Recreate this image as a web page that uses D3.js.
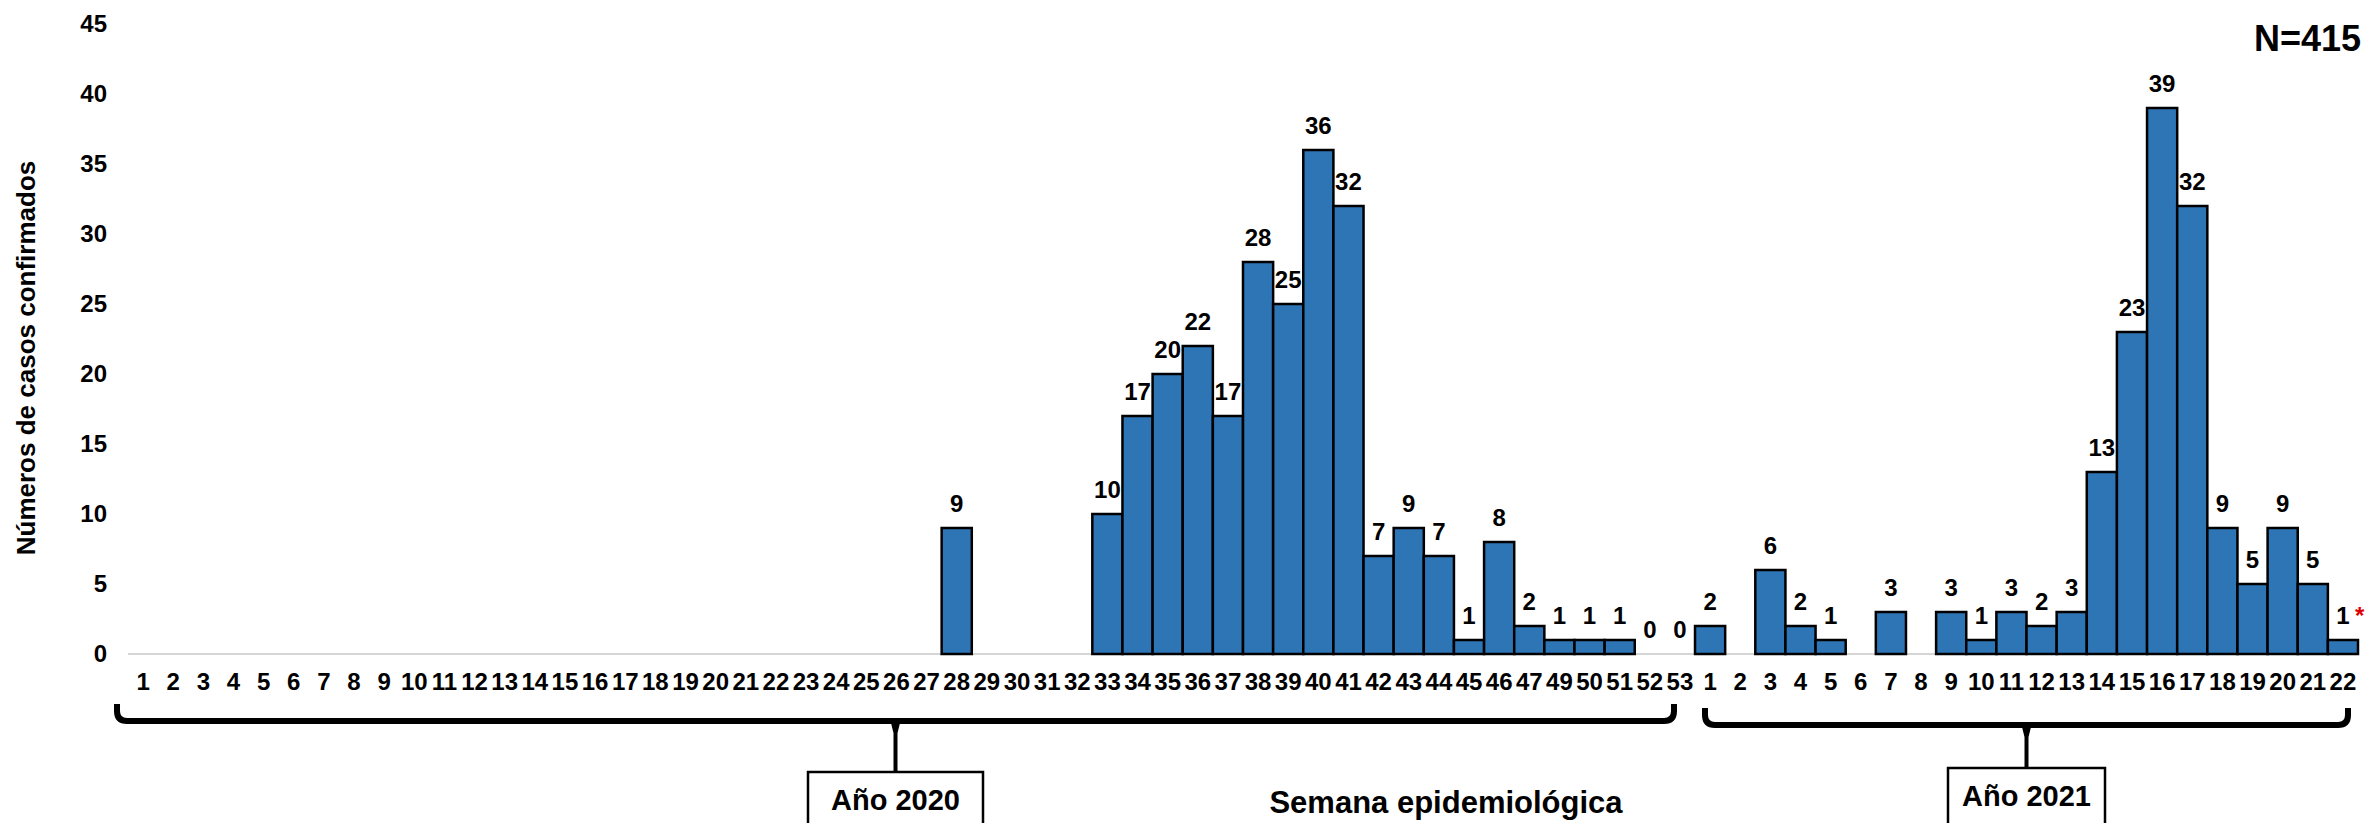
<!DOCTYPE html>
<html>

<head>
    <meta charset="UTF-8">
    <script src="https://d3js.org/d3.v7.min.js"></script>
    <style>
        body { margin: 0; background: #fff; }
        svg { display: block; font-family: "Liberation Sans", Arial, sans-serif; font-weight: bold; }
    </style>
</head>

<body>
    <svg></svg>

    <script>
        let width = 2368, height = 823;

        // epidemiological weeks (week 48 of 2020 is not shown in the source)
        let weeks2020 = ["1","2","3","4","5","6","7","8","9","10","11","12","13","14","15","16","17","18","19","20",
            "21","22","23","24","25","26","27","28","29","30","31","32","33","34","35","36","37","38","39","40",
            "41","42","43","44","45","46","47","49","50","51","52","53"];
        let weeks2021 = ["1","2","3","4","5","6","7","8","9","10","11","12","13","14","15","16","17","18","19","20","21","22"];

        // confirmed cases per week (null = no bar, no label)
        let cases2020 = [null,null,null,null,null,null,null,null,null,null,null,null,null,null,null,null,null,null,null,null,
            null,null,null,null,null,null,null,9,null,null,null,null,10,17,20,22,17,28,25,36,
            32,7,9,7,1,8,2,1,1,1,0,0];
        let cases2021 = [2,null,6,2,1,null,3,null,3,1,3,2,3,13,23,39,32,9,5,9,5,1];

        let yTicks = [0, 5, 10, 15, 20, 25, 30, 35, 40, 45];
        let total = "N=415";

        let data = []
        weeks2020.forEach((w, i) => data.push({ key: "2020-" + w, week: w, value: cases2020[i] }))
        weeks2021.forEach((w, i) => data.push({ key: "2021-" + w, week: w, value: cases2021[i] }))

        let svg = d3.select("svg")
            .attr("width", width)
            .attr("height", height)

        let x = d3.scaleBand()
            .domain(data.map(d => d.key))
            .range([128, 2358])
            .padding(0);

        let y = d3.scaleLinear()
            .domain([0, 45])
            .range([654, 24]);

        // y axis labels only
        svg.append("g")
            .attr("transform", "translate(128,0)")
            .call(d3.axisLeft(y).tickValues(yTicks).tickSize(0).tickPadding(21))
            .call(g => g.select(".domain").remove())
            .selectAll("text")
            .style("font-size", "24px")
            .style("font-family", "Liberation Sans, Arial, sans-serif")
            .style("font-weight", "bold")
            .attr("fill", "#000");

        // baseline
        svg.append("line")
            .attr("x1", x.range()[0]).attr("x2", x.range()[1])
            .attr("y1", y(0)).attr("y2", y(0))
            .attr("stroke", "#d6d6d6")
            .attr("stroke-width", 2);

        // bars
        let barData = data.filter(d => d.value != null && d.value > 0)
        svg.append("g")
            .selectAll("rect")
            .data(barData)
            .enter()
            .append("rect")
            .attr("x", d => x(d.key))
            .attr("y", d => y(d.value))
            .attr("width", x.bandwidth())
            .attr("height", d => y(0) - y(d.value))
            .attr("fill", "#2E75B6")
            .attr("stroke", "#000")
            .attr("stroke-width", 2.5);

        // value labels
        let labelData = data.filter(d => d.value != null)
        svg.append("g")
            .selectAll("text")
            .data(labelData)
            .enter()
            .append("text")
            .attr("x", d => x(d.key) + x.bandwidth() / 2)
            .attr("y", d => y(d.value) - 16)
            .attr("text-anchor", "middle")
            .style("font-size", "24px")
            .text(d => d.value);

        // red asterisk on the last (incomplete) week
        let last = data[data.length - 1]
        svg.append("text")
            .attr("x", x(last.key) + x.bandwidth() / 2 + 12)
            .attr("y", y(last.value) - 16)
            .attr("fill", "#e00000")
            .style("font-size", "24px")
            .text("*");

        // x axis week labels
        svg.append("g")
            .attr("transform", "translate(0," + y(0) + ")")
            .call(d3.axisBottom(x).tickSize(0).tickPadding(19).tickFormat(k => k.split("-")[1]))
            .call(g => g.select(".domain").remove())
            .selectAll("text")
            .style("font-size", "24px")
            .style("font-family", "Liberation Sans, Arial, sans-serif")
            .style("font-weight", "bold")
            .attr("fill", "#000");

        // year brackets
        function bracket(x0, x1, lineY, boxW, boxTop, label) {
            let tip = lineY - 17, r = 10, cx = (x0 + x1) / 2
            svg.append("path")
                .attr("d", "M" + x0 + "," + tip + " L" + x0 + "," + (lineY - r) + " Q" + x0 + "," + lineY + " " + (x0 + r) + "," + lineY +
                    " L" + (x1 - r) + "," + lineY + " Q" + x1 + "," + lineY + " " + x1 + "," + (lineY - r) + " L" + x1 + "," + tip)
                .attr("fill", "none")
                .attr("stroke", "#000")
                .attr("stroke-width", 6)
                .attr("stroke-linejoin", "round");
            svg.append("path")
                .attr("d", "M" + (cx - 5) + "," + lineY + " L" + (cx + 5) + "," + lineY + " L" + (cx + 2) + "," + (lineY + 12) +
                    " L" + (cx + 2) + "," + boxTop + " L" + (cx - 2) + "," + boxTop + " L" + (cx - 2) + "," + (lineY + 12) + "Z")
                .attr("fill", "#000");
            svg.append("rect")
                .attr("x", cx - boxW / 2)
                .attr("y", boxTop)
                .attr("width", boxW)
                .attr("height", 60)
                .attr("fill", "#fff")
                .attr("stroke", "#000")
                .attr("stroke-width", 2.5);
            svg.append("text")
                .attr("x", cx)
                .attr("y", boxTop + 38)
                .attr("text-anchor", "middle")
                .style("font-size", "29px")
                .text(label);
        }
        bracket(117, 1674, 721, 175, 772, "Año 2020")
        bracket(1705, 2348, 725, 157, 768, "Año 2021")

        // axis titles
        svg.append("text")
            .attr("x", 1446)
            .attr("y", 813)
            .attr("text-anchor", "middle")
            .style("font-size", "31px")
            .text("Semana epidemiológica");

        svg.append("text")
            .attr("transform", "translate(35,358) rotate(-90)")
            .attr("text-anchor", "middle")
            .style("font-size", "26px")
            .text("Números de casos confirmados");

        svg.append("text")
            .attr("x", 2361)
            .attr("y", 51)
            .attr("text-anchor", "end")
            .style("font-size", "36px")
            .text(total);
    </script>

</body>

</html>
